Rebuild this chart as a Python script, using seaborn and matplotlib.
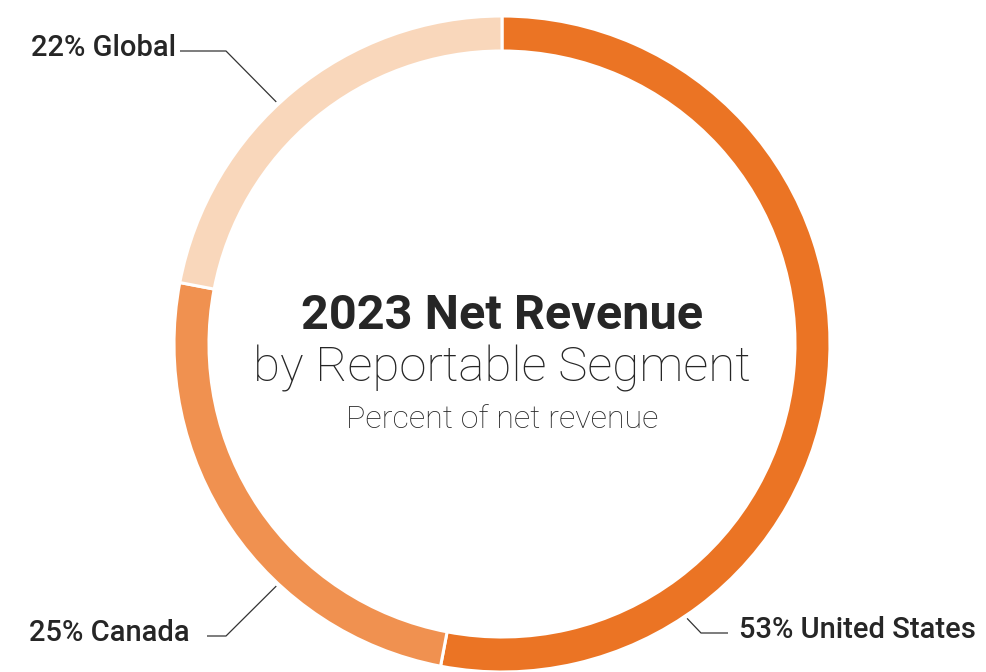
import numpy as np
import matplotlib.pyplot as plt
import seaborn as sns

# data
segments = ['United States', 'Canada', 'Global']
shares = [53, 25, 22]
colors = ['#EB7424', '#F09150', '#F9D7BB']

sns.set_theme(style='white')
plt.rcParams['font.family'] = ['Roboto', 'DejaVu Sans']

W, H = 987, 672
fig = plt.figure(figsize=(W / 100, H / 100), dpi=100)
ax = fig.add_axes([0, 0, 1, 1])

def py(y):
    # pixel row -> data y
    return H - y

cx, cy, R = 502, py(344), 328
ax.pie(shares, colors=colors, startangle=90, counterclock=False,
       center=(cx, cy), radius=R, frame=True,
       wedgeprops=dict(width=35, edgecolor='white', linewidth=2.2))
ax.set_xlim(0, W)
ax.set_ylim(0, H)
ax.set_aspect('equal')
ax.axis('off')

txt = '#262626'
# leader lines: (anchor angle on ring, elbow, end of horizontal, text x, align)
leaders = {
    'Global': (133, (226, 51), (180, 51), 176, 'right'),
    'Canada': (227, (226, 636), (207, 636), 190, 'right'),
    'United States': (-56, (701, 633), (728, 633), 739, 'left'),
}
for seg, val in zip(segments, shares):
    ang, elbow, end, tx, ha = leaders[seg]
    a = np.deg2rad(ang)
    x0, y0 = cx + 331 * np.cos(a), cy + 331 * np.sin(a)
    ax.plot([x0, elbow[0], end[0]], [y0, py(elbow[1]), py(end[1])],
            color='#333333', lw=0.9, solid_capstyle='butt')
    ax.text(tx, py(end[1] - 3), f'{val}% {seg}', ha=ha, va='center',
            fontsize=21, fontweight='medium', color=txt)

ax.text(cx, py(316), '2023 Net Revenue', ha='center', va='center',
        fontsize=35, fontweight='bold', color=txt)
ax.text(cx, py(369), 'by Reportable Segment', ha='center', va='center',
        fontsize=35.5, fontweight='light', color=txt)
ax.text(cx, py(420), 'Percent of net revenue', ha='center', va='center',
        fontsize=23.2, fontweight='light', color=txt)

fig.savefig('out.png', dpi=100)
